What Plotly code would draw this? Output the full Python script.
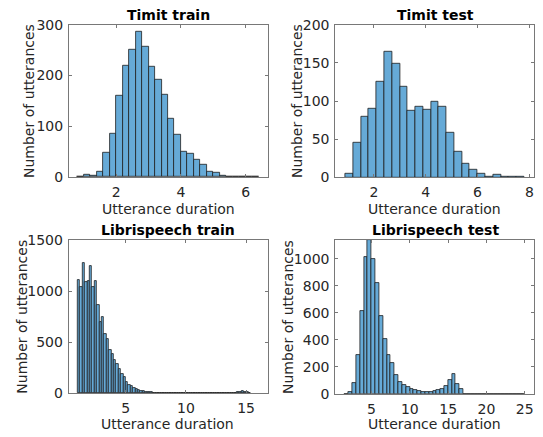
import plotly.graph_objects as go

# ---------------- data ----------------
# Timit train: bins of 0.2 starting at 0.8
timit_train_start = 0.8
timit_train_width = 0.2
timit_train_counts = [1, 5, 3, 11, 48, 85, 161, 219, 251, 286, 257, 217, 191, 163,
                      114, 84, 50, 45, 35, 25, 10, 8, 3, 1, 1, 1, 1, 1]

# Timit test: bins of 0.3 starting at 0.9
timit_test_start = 0.9
timit_test_width = 0.3
timit_test_counts = [5, 46, 80, 90, 125, 164, 149, 119, 87, 93, 89, 99, 92, 58,
                     33, 18, 10, 5, 1, 3, 1, 1, 1]

# Librispeech train: bins of 0.2 starting at 1.0
libri_train_start = 1.0
libri_train_width = 0.2
libri_train_counts = [1110, 1045, 1275, 1085, 1095, 1250, 1045, 1095, 860, 700,
                      745, 580, 530, 420, 380, 330, 290, 235, 185, 160,
                      110, 85, 70, 52, 40, 30, 24, 18, 14, 11,
                      9, 7, 6, 5, 5, 4, 4, 3, 3, 3,
                      2, 2, 2, 2, 2, 2, 2, 2, 2, 2,
                      2, 2, 2, 2, 2, 2, 2, 2, 2, 3,
                      3, 3, 3, 4, 4, 6, 8, 15, 20, 14,
                      8, 3]

# Librispeech test: bins of 0.5 starting at 1.5
libri_test_start = 1.5
libri_test_width = 0.5
libri_test_counts = [1, 13, 77, 287, 614, 1017, 1140, 1000, 822, 580,
                     405, 284, 225, 138, 85, 64, 53, 38, 27, 18,
                     15, 11, 16, 20, 25, 37, 58, 100, 143, 74,
                     37, 1, 1, 1, 1, 1, 1, 1, 1, 1,
                     1, 1, 1, 1, 1, 1, 1]

titles = ["Timit train", "Timit test", "Librispeech train", "Librispeech test"]
x_label = "Utterance duration"
y_label = "Number of utterances"

W, H = 543, 437
FONT = "DejaVu Sans"
TXT = "#262626"
BAR_FILL = "rgb(102,170,215)"
BAR_LINE = "rgb(30,30,30)"
AX_LINE = "rgb(120,120,120)"

panels = [
    dict(start=timit_train_start, width=timit_train_width, counts=timit_train_counts,
         box=(69, 268, 24.7, 177), xr=[0.54, 6.69], yr=[0, 300],
         xt=[2, 4, 6], yt=[0, 100, 200, 300],
         title=(168, 15), xl=(168, 208), yl=(29, 101)),
    dict(start=timit_test_start, width=timit_test_width, counts=timit_test_counts,
         box=(335.3, 534.3, 24.7, 177.3), xr=[0.51, 8.19], yr=[0, 200],
         xt=[2, 4, 6, 8], yt=[0, 50, 100, 150, 200],
         title=(435, 15), xl=(434.3, 207.5), yl=(297, 101)),
    dict(start=libri_train_start, width=libri_train_width, counts=libri_train_counts,
         box=(68.7, 267.7, 240, 393.3), xr=[0.26, 16.8], yr=[0, 1500],
         xt=[5, 10, 15], yt=[0, 500, 1000, 1500],
         title=(168.3, 229.7), xl=(167.7, 423), yl=(21.7, 317)),
    dict(start=libri_test_start, width=libri_test_width, counts=libri_test_counts,
         box=(335.3, 534.3, 240, 393.7), xr=[0.27, 26.25], yr=[0, 1140],
         xt=[5, 10, 15, 20, 25], yt=[0, 200, 400, 600, 800, 1000],
         title=(435, 229.7), xl=(434.3, 423), yl=(288, 317)),
]

fig = go.Figure()
annotations = []
layout_axes = {}

for i, p in enumerate(panels):
    n = i + 1
    xa = "x" if n == 1 else f"x{n}"
    ya = "y" if n == 1 else f"y{n}"
    lefts = [p["start"] + k * p["width"] for k in range(len(p["counts"]))]
    fig.add_trace(go.Bar(
        x=lefts, y=p["counts"], width=p["width"], offset=0,
        marker=dict(color=BAR_FILL, line=dict(color=BAR_LINE, width=0.8)),
        xaxis=xa, yaxis=ya, showlegend=False, hoverinfo="x+y",
    ))
    x0, x1, y0, y1 = p["box"]
    axcommon = dict(showline=True, linecolor=AX_LINE, linewidth=1, mirror="all",
                    ticks="inside", ticklen=3, tickcolor=AX_LINE, tickwidth=1,
                    showgrid=False, zeroline=False, automargin=False,
                    tickfont=dict(family=FONT, size=14, color=TXT))
    layout_axes["xaxis" if n == 1 else f"xaxis{n}"] = dict(
        domain=[x0 / W, x1 / W], range=p["xr"], tickmode="array", tickvals=p["xt"],
        anchor=ya, ticklabelstandoff=2, **axcommon)
    layout_axes["yaxis" if n == 1 else f"yaxis{n}"] = dict(
        domain=[1 - y1 / H, 1 - y0 / H], range=p["yr"], tickmode="array", tickvals=p["yt"],
        anchor=xa, ticklabelstandoff=2, **axcommon)
    tx, ty = p["title"]
    annotations.append(dict(text=f"<b>{titles[i]}</b>", x=tx / W, y=1 - ty / H,
                            xref="paper", yref="paper", showarrow=False,
                            xanchor="center", yanchor="middle",
                            font=dict(family=FONT, size=14, color="black")))
    lx, ly = p["xl"]
    annotations.append(dict(text=x_label, x=lx / W, y=1 - (ly + 1) / H,
                            xref="paper", yref="paper", showarrow=False,
                            xanchor="center", yanchor="middle",
                            font=dict(family=FONT, size=14, color=TXT)))
    vx, vy = p["yl"]
    annotations.append(dict(text=y_label, x=vx / W, y=1 - vy / H, textangle=-90,
                            xref="paper", yref="paper", showarrow=False,
                            xanchor="center", yanchor="middle",
                            font=dict(family=FONT, size=14, color=TXT)))

fig.update_layout(
    width=W, height=H,
    margin=dict(l=0, r=0, t=0, b=0, autoexpand=False),
    paper_bgcolor="white", plot_bgcolor="white",
    bargap=0,
    annotations=annotations,
    font=dict(family=FONT, color=TXT),
    **layout_axes,
)

fig.write_html(
    "out.html",
    config={"displayModeBar": False},
    post_script="document.body.style.margin='0';document.body.style.padding='0';"
                "document.body.style.overflow='hidden';",
)
